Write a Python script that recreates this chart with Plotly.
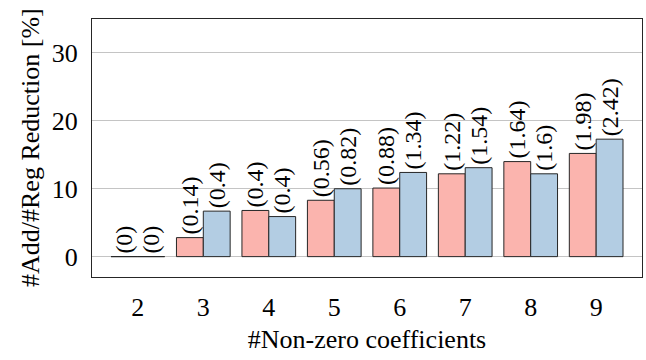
import plotly.graph_objects as go

# Number of non-zero coefficients (x categories)
coefficients = [2, 3, 4, 5, 6, 7, 8, 9]

# Reduction in percent for the two methods
reduction_a = [0.0, 2.8, 6.8, 8.3, 10.1, 12.2, 14.0, 15.2]
reduction_b = [0.0, 6.7, 5.9, 10.0, 12.4, 13.1, 12.2, 17.3]

# Values printed above the bars
annot_a = [0, 0.14, 0.4, 0.56, 0.88, 1.22, 1.64, 1.98]
annot_b = [0, 0.4, 0.4, 0.82, 1.34, 1.54, 1.6, 2.42]

y_ticks = [0, 10, 20, 30]

FONT = "Liberation Serif"
RED = "#fbb4ae"
BLUE = "#b3cde3"
EDGE = "#262626"


def fmt(vals):
    return [f"({v:g})" for v in vals]


fig = go.Figure()
for vals, lbls, color in ((reduction_a, annot_a, RED), (reduction_b, annot_b, BLUE)):
    fig.add_trace(go.Bar(
        x=coefficients,
        y=vals,
        text=fmt(lbls),
        textposition="outside",
        textangle=-90,
        constraintext="none",
        cliponaxis=False,
        textfont=dict(family=FONT, size=24, color="black"),
        marker=dict(color=color, line=dict(color=EDGE, width=1)),
        showlegend=False,
    ))

fig.update_layout(
    width=646,
    height=360,
    margin=dict(l=92, r=4, t=19, b=83),
    paper_bgcolor="white",
    plot_bgcolor="white",
    barmode="group",
    bargap=0.18,
    bargroupgap=0,
    font=dict(family=FONT, size=26, color="black"),
)

fig.update_xaxes(
    range=[1.3, 9.7],
    tickmode="array",
    tickvals=coefficients,
    ticktext=[str(c) for c in coefficients],
    ticks="",
    ticklabelstandoff=7,
    showgrid=False,
    zeroline=False,
    showline=True,
    linecolor=EDGE,
    linewidth=1,
    mirror=True,
    title=dict(text="#Non-zero coefficients", standoff=8,
               font=dict(family=FONT, size=26, color="black")),
    tickfont=dict(family=FONT, size=26, color="black"),
)

fig.update_yaxes(
    range=[-3, 35],
    tickmode="array",
    tickvals=y_ticks,
    ticks="outside",
    ticklen=8,
    tickcolor="rgba(0,0,0,0)",
    showgrid=True,
    gridcolor="#c4c4c4",
    gridwidth=1,
    zeroline=False,
    showline=True,
    linecolor=EDGE,
    linewidth=1,
    mirror=True,
    tickfont=dict(family=FONT, size=26, color="black"),
)

# y-axis title placed at a fixed distance left of the plot area
fig.add_annotation(
    text="#Add/#Reg Reduction [%]",
    xref="paper", yref="paper",
    x=0, y=0.5,
    xshift=-62,
    xanchor="center", yanchor="middle",
    textangle=-90,
    showarrow=False,
    font=dict(family=FONT, size=26, color="black"),
)

fig.write_html("out.html")
